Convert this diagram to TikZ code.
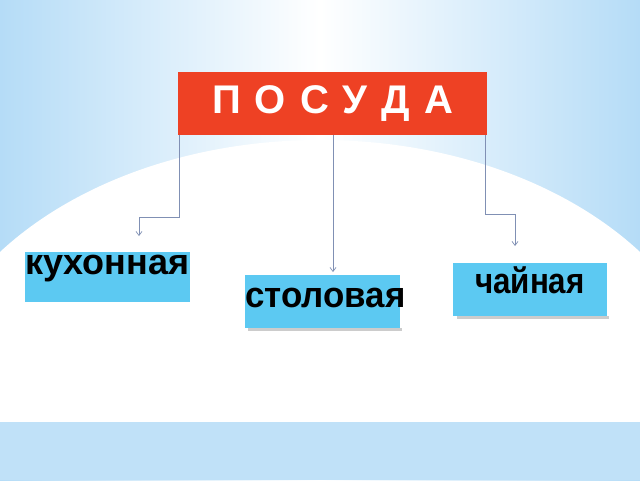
\documentclass[tikz,border=0pt]{standalone}
\usepackage{fontspec}
\setmainfont{Liberation Sans}
\usetikzlibrary{arrows.meta}
\definecolor{bgblue}{HTML}{B5DCF7}
\definecolor{titlered}{HTML}{EE4124}
\definecolor{boxblue}{HTML}{5CC9F2}
\definecolor{linec}{HTML}{8090B4}
\tikzset{
  px/.style={x=1pt,y=-1pt},
  catbox/.style={fill=boxblue,inner sep=0pt,draw=none},
  cattext/.style={font=\bfseries\fontsize{36}{36}\selectfont,text=black,inner sep=0pt},
  conn/.style={draw=linec,line width=0.7pt,-{Straight Barb[length=4pt,width=6pt]}}
}
\begin{document}
\begin{tikzpicture}[px]
\useasboundingbox (0,0) rectangle (640,480);
\shade[left color=bgblue,right color=bgblue,middle color=white] (0,0) rectangle (640,480);
\begin{scope}
\clip (0,0) rectangle (640,422);
\fill[white] (320,420) ellipse [x radius=400,y radius=280];
\fill[white] (0,253) rectangle (640,422);
\end{scope}
\fill[bgblue!85] (0,422) rectangle (640,480);
% title
\node[fill=titlered,minimum width=309pt,minimum height=63pt,inner sep=0pt,anchor=north west,
  text=white,font=\bfseries\fontsize{40}{40}\selectfont] (title) at (178,72) {П\kern14ptО\kern14ptС\kern14ptУ\kern14ptД\kern14ptА};
% boxes
\fill[gray!40] (457,316) rectangle (609,319);
\fill[gray!40] (248,328) rectangle (402,331);
\node[catbox,minimum width=165pt,minimum height=50pt,anchor=north west] (kux) at (25,252) {};
\node[catbox,minimum width=155pt,minimum height=53pt,anchor=north west] (stol) at (245,275) {};
\node[catbox,minimum width=154pt,minimum height=53pt,anchor=north west] (chai) at (453,263) {};
\node[cattext,anchor=base west] (kuxt) at (25,274) {кухонная};
\node[cattext,anchor=base west,xscale=0.97] (stolt) at (245,307) {столовая};
\node[cattext,anchor=base west,xscale=0.87] (chait) at (475,293) {чайная};
% connectors
\coordinate (a1) at (139,236);
\coordinate (a2) at (333,272);
\coordinate (a3) at (515,246);
\draw[conn] (title.south west) ++(1,0) |- (139,217) -- (a1);
\draw[conn] (333,135) -- (a2);
\draw[conn] (title.south east) ++(-2,0) |- (515,214) -- (a3);
\end{tikzpicture}
\end{document}
